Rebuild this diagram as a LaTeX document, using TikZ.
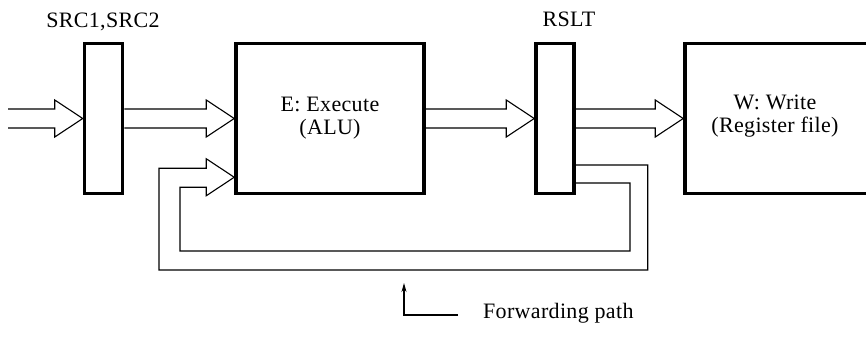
\documentclass[tikz,border=0pt]{standalone}
\usepackage{fontspec}
\setmainfont{Liberation Serif}
\usetikzlibrary{calc,arrows.meta}

\tikzset{
    reg/.style={draw, line width=3.5pt, minimum width=38pt, minimum height=150pt, inner sep=0pt},
    stage/.style={draw, line width=3.5pt, minimum height=150pt, inner sep=0pt},
    bus/.style={line width=1.1pt, line join=miter},
    lbl/.style={font=\fontsize{22}{23}\selectfont\addfontfeature{LetterSpace=1.5}, align=center, inner sep=0pt}
}

% hollow double-line arrow: #1 start, #2 tip
\newcommand{\busarrow}[2]{%
    \draw[bus] let \p1=(#1), \p2=(#2) in
        (\x1,\y2+9.5pt) -- (\x2-28pt,\y2+9.5pt) -- (\x2-28pt,\y2+18.5pt) -- (\p2)
        -- (\x2-28pt,\y2-18.5pt) -- (\x2-28pt,\y2-9.5pt) -- (\x1,\y2-9.5pt);}

\begin{document}
\begin{tikzpicture}[x=1pt,y=-1pt]
    \useasboundingbox (0,0) rectangle (866,337);
    \clip (0,0) rectangle (866,337);
    \node[reg] (src) at (103.5,118.5) {};
    \node[stage, minimum width=188pt] (exe) at (330,118.5) {};
    \node[reg] (rslt) at (555,118.5) {};
    \node[stage, minimum width=220pt] (wr) at (795,118.5) {};
    \node[lbl] (srclbl) at (103,22) {SRC1,SRC2};
    \node[lbl] (rsltlbl) at (569,19) {RSLT};
    \node[lbl] (exelbl) at (exe.center) {E: Execute\\(ALU)};
    \node[lbl] (wrlbl) at (775,116) {W: Write\\(Register file)};
    \coordinate (in) at (8,118.5);
    \busarrow{in}{src.west}
    \busarrow{src.east}{exe.west}
    \busarrow{exe.east}{rslt.west}
    \busarrow{rslt.east}{wr.west}
    % forwarding path back into the ALU
    \coordinate (fb) at ($(exe.south west)+(0,-18)$);
    \draw[bus] ($(rslt.east)+(0,46.5)$) -- ++(72,0) |- (159,270) |- ($(fb)+(-28,-9)$)
        -- ($(fb)+(-28,-18.5)$) -- (fb) -- ($(fb)+(-28,18.5)$) -- ($(fb)+(-28,10)$)
        -| (180,251) -| (630,183) -- ($(rslt.east)+(0,64.5)$);
    \node[lbl, anchor=base west] (fwd) at (483,318) {Forwarding path};
    \draw[bus, -{Stealth[length=9pt,width=5pt]}] ($(fwd.base west)+(-25,-3)$) -| (404,283);
\end{tikzpicture}
\end{document}
